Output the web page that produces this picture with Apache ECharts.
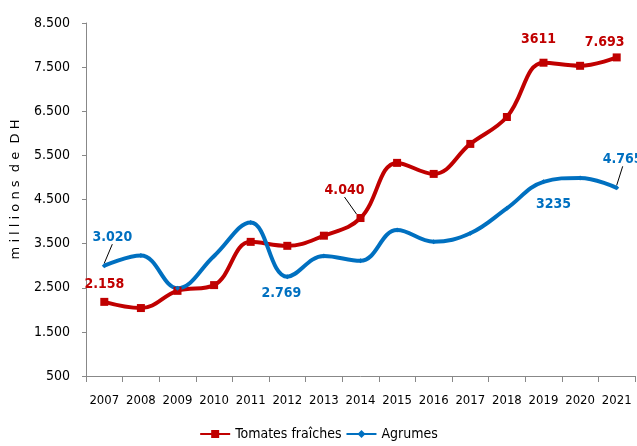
<!DOCTYPE html>
<html>
<head>
<meta charset="utf-8">
<script src="https://cdn.jsdelivr.net/npm/echarts@6/dist/echarts.min.js"></script>
<style>
  html, body { margin: 0; padding: 0; background: #fff; }
  #chart { width: 637px; height: 446px; }
</style>
</head>
<body>
<div id="chart"></div>
<script>
  // annees
  var years = ['2007','2008','2009','2010','2011','2012','2013','2014','2015','2016','2017','2018','2019','2020','2021'];
  // millions de DH
  var tomates = [2180, 2040, 2430, 2560, 3540, 3450, 3680, 4080, 5330, 5080, 5760, 6370, 7600, 7530, 7720];
  var agrumes = [3000, 3230, 2490, 3220, 3980, 2750, 3220, 3110, 3810, 3545, 3735, 4300, 4900, 4990, 4765];
  // textes affiches sur les points
  var tomatesLabels = {0: '2.158', 7: '4.040', 12: '3611', 14: '7.693'};
  var agrumesLabels = {0: '3.020', 5: '2.769', 12: '3235', 14: '4.765'};
  var yTicks = [500, 1500, 2500, 3500, 4500, 5500, 6500, 7500, 8500];

  var RED = '#C00000', BLUE = '#0070C0';
  var FONT = "'Liberation Sans Narrow', 'DejaVu Sans Condensed', sans-serif";

  // position des etiquettes : [position, dx, dy, guide]
  var placeRed = {0: ['top', 0, -2, false], 7: ['top', -16, -12, true], 12: ['top', -5, -7, false], 14: ['top', -12, 1, false]};
  var placeBlue = {0: ['top', 8, -14, true], 5: ['bottom', -6, 2, false], 12: ['bottom', 10, 8, false], 14: ['top', 6, -14, true]};

  function buildData(values, labels, place, color) {
    return values.map(function (v, i) {
      if (!(i in labels)) return v;
      return {
        value: v,
        label: {
          show: true,
          position: place[i][0],
          formatter: labels[i],
          color: color,
          fontWeight: 'bold',
          fontSize: 14,
          fontFamily: FONT
        },
        labelLine: { show: place[i][3], lineStyle: { color: '#000', width: 1 } }
      };
    });
  }

  function layoutFor(place) {
    return function (params) {
      var p = place[params.dataIndex];
      if (!p) return {};
      return { dx: p[1], dy: p[2] };
    };
  }

  var myChart = echarts.init(document.getElementById('chart'));
  var option = {
    animation: false,
    textStyle: { fontFamily: FONT },
    grid: { left: 86, right: 2, top: 23, bottom: 70 },
    legend: {
      bottom: 0,
      left: 'center',
      itemWidth: 30,
      itemHeight: 10,
      itemGap: 4,
      textStyle: { fontSize: 14, color: '#000', fontFamily: FONT },
      data: ['Tomates fraîches', 'Agrumes']
    },
    xAxis: {
      type: 'category',
      data: years,
      boundaryGap: true,
      axisLine: { lineStyle: { color: '#888' } },
      axisTick: { show: true, interval: 0, length: 6, lineStyle: { color: '#888' } },
      axisLabel: { color: '#000', fontSize: 13, margin: 18, interval: 0, hideOverlap: false, fontFamily: FONT }
    },
    yAxis: {
      type: 'value',
      min: yTicks[0],
      max: yTicks[yTicks.length - 1],
      interval: 1000,
      name: 'm i l l i o n s  d e  D H',
      nameLocation: 'middle',
      nameRotate: 90,
      nameGap: 64,
      nameTextStyle: { color: '#000', fontSize: 13, fontFamily: "'DejaVu Sans', sans-serif", padding: [0, 0, 0, 20] },
      axisLine: { show: true, lineStyle: { color: '#888' } },
      axisTick: { show: true, length: 4, lineStyle: { color: '#888' } },
      splitLine: { show: false },
      axisLabel: {
        color: '#000',
        fontSize: 14,
        margin: 16,
        fontFamily: FONT,
        formatter: function (v) {
          return v >= 1000 ? Math.floor(v / 1000) + '.' + String(v % 1000).padStart(3, '0') : String(v);
        }
      }
    },
    series: [
      {
        name: 'Tomates fraîches',
        type: 'line',
        smooth: 0.4,
        symbol: 'rect',
        symbolSize: 8,
        lineStyle: { color: RED, width: 4 },
        itemStyle: { color: RED },
        labelLayout: layoutFor(placeRed),
        data: buildData(tomates, tomatesLabels, placeRed, RED)
      },
      {
        name: 'Agrumes',
        type: 'line',
        smooth: 0.4,
        symbol: 'diamond',
        symbolSize: 5,
        lineStyle: { color: BLUE, width: 4 },
        itemStyle: { color: BLUE },
        labelLayout: layoutFor(placeBlue),
        data: buildData(agrumes, agrumesLabels, placeBlue, BLUE)
      }
    ]
  };
  myChart.setOption(option);
</script>
</body>
</html>
